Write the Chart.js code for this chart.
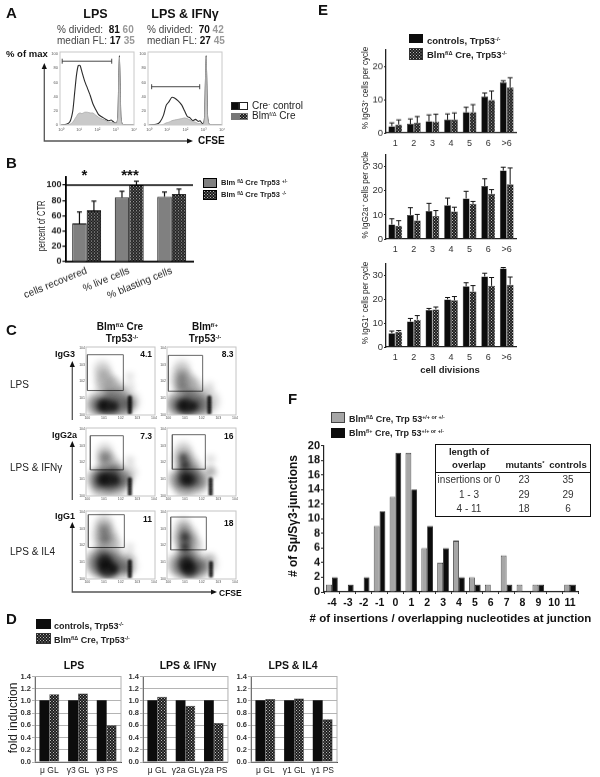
<!DOCTYPE html>
<html>
<head>
<meta charset="utf-8">
<script src="https://cdn.jsdelivr.net/npm/chart.js@4"></script>
<style>
html, body { margin: 0; padding: 0; background: #fff; }
#page { position: absolute; left: 0; top: 0; width: 600px; height: 777px; overflow: hidden; filter: blur(0.35px); font-family: "Liberation Sans", Arial, sans-serif; color: #111; }
#page canvas { position: absolute; }
.t { position: absolute; white-space: nowrap; line-height: 1; }
.t sup { font-size: 0.6em; line-height: 0; vertical-align: 0.55em; }
.box { position: absolute; box-sizing: border-box; }
svg { position: absolute; left: 0; top: 0; }
</style>
</head>
<body>
<div id="page"></div>
<script>
// ---- panel A, histogram curves, x = log10 CFSE, y = % of max
const histLeftX = [0, .3, .5, .65, .75, .85, .95, 1.05, 1.15, 1.3, 1.45, 1.6, 1.75, 1.9, 2.05, 2.2, 2.4, 2.6, 2.75, 2.9, 3.05, 3.12, 3.16, 3.2, 3.24, 3.28, 3.36, 3.6, 4];
const histLeftCtl = [0, 1, 5, 20, 45, 70, 84, 84, 75, 62, 52, 42, 30, 22, 15, 12, 9, 6, 7, 4, 3, 12, 55, 98, 55, 12, 1, 0, 0];
const histLeftMut = [0, 0, 1, 4, 8, 12, 16, 17, 16, 18, 18, 17, 17, 14, 11, 9, 7, 4, 4, 3, 3, 12, 55, 96, 55, 12, 1, 0, 0];
const histRightX = [0, .4, .6, .8, .95, 1.1, 1.25, 1.4, 1.6, 1.8, 1.95, 2.1, 2.25, 2.4, 2.55, 2.7, 2.8, 2.92, 3.0, 3.05, 3.09, 3.13, 3.17, 3.21, 3.3, 3.6, 4];
const histRightCtl = [0, 1, 4, 14, 28, 33, 39, 38, 34, 28, 20, 12, 10, 6, 8, 5, 6, 2, 3, 12, 55, 98, 55, 12, 1, 0, 0];
const histRightMut = [0, 0, 0, 1, 3, 4, 6, 7, 8, 9, 10, 9, 7, 5, 4, 2, 2, 1, 2, 12, 55, 96, 55, 12, 1, 0, 0];
const gateLeft = [[.07, 90], [2.78, 90]];
const gateRight = [[.15, 54], [2.78, 54]];

// ---- panel B
const recoveryCats = ["cells recovered", "% live cells", "% blasting cells"];
const recoveryHet = [50, 84, 85];
const recoveryHetTop = [65, 92, 91];
const recoveryKo = [67, 100, 88];
const recoveryKoTop = [79, 105, 95];

// ---- panel C, density blobs [log x, log y, spread], gates [x0, x1, y0, y1]
const igg3MutLow = [[.9,2.75,6],[1,2.2,7],[1.2,1.8,8],[1.6,1.6,7],[2,1.45,4],[.4,.6,7],[1,.7,11],[1.8,.7,11],[2.45,.8,8],[2.55,1.7,3],[2.55,2.3,2.5]];
const igg3MutMid = [[.7,.6,7],[1.3,.6,9],[2,.6,8],[2.5,.7,5]];
const igg3MutDark = [[.9,.55,5],[1.2,.55,6],[1.6,.5,4]];
const igg3MutPeak = [[2.55,.15,2],[2.55,.3,2],[2.55,.45,2],[2.55,.6,2],[2.55,.75,2],[2.55,.9,2],[2.55,1.05,2]];
const igg3CtlLow = [[.8,2.8,6],[.8,2.2,8],[1.05,1.8,9],[1.5,1.6,7],[.3,.65,7],[.9,.7,11],[1.6,.7,11],[2.3,.8,9],[2.46,1.7,3]];
const igg3CtlMid = [[.7,.6,8],[1.3,.6,9],[2,.6,7],[.8,2.2,4],[.8,1.7,4]];
const igg3CtlDark = [[.8,.55,5],[1.15,.55,6],[1.5,.5,4]];
const igg3CtlPeak = [[2.46,.15,2],[2.46,.3,2],[2.46,.45,2],[2.46,.6,2],[2.46,.75,2],[2.46,.9,2],[2.46,1.05,2]];
const igg2MutLow = [[1.05,2.65,6],[1.1,2.15,7],[1.35,1.75,8],[1.75,1.6,5],[.6,1,8],[1.1,1,11],[1.8,1,10],[.8,.35,7],[1.7,.3,7],[2.55,1.4,5],[2.55,2.1,3]];
const igg2MutMid = [[.7,1,7],[1.2,1,9],[1.8,1,8],[2.3,.9,5],[1.05,2.3,4]];
const igg2MutDark = [[.9,1,5],[1.25,1,6],[1.7,.95,4]];
const igg2MutPeak = [[2.55,.1,2],[2.55,.25,2],[2.55,.4,2],[2.55,.55,2],[2.55,.7,2],[2.55,.85,2],[2.55,1,2]];
const igg2CtlLow = [[.9,2.75,6],[.95,2.2,8],[1.25,1.75,8],[1.7,1.55,5],[.5,1,7],[1.1,.9,11],[1.7,.8,9],[.9,.35,6],[2.55,1.4,4],[2.54,2.2,3]];
const igg2CtlMid = [[.9,2.2,5],[1.05,1.7,6],[.8,1,7],[1.25,1,8],[1.9,.9,6],[2.54,1.5,3]];
const igg2CtlDark = [[.9,2.3,2.5],[1,1.85,3],[1,1.05,5],[1.3,.95,5]];
const igg2CtlPeak = [[2.54,.1,2],[2.54,.25,2],[2.54,.4,2],[2.54,.55,2],[2.54,.7,2],[2.54,.85,2],[2.54,1,2]];
const igg1MutLow = [[1,3.35,6],[1,2.85,8],[1.1,2.35,9],[1.3,1.9,9],[.6,1,10],[1.1,.9,12],[1.8,.8,11],[2.5,.8,6],[2.55,1.3,4],[2.55,1.9,2.5]];
const igg1MutMid = [[1,2.9,4],[1.05,2.4,4],[.8,1,9],[1.2,.8,10],[1.9,.8,7],[2.4,.6,4]];
const igg1MutDark = [[1,1,6],[1.2,.6,7],[1.6,.6,4]];
const igg1MutPeak = [[2.55,.15,2],[2.55,.3,2],[2.55,.45,2],[2.55,.6,2],[2.55,.75,2],[2.55,.9,2],[2.55,1.05,2]];
const igg1CtlLow = [[.9,3.25,5],[.95,2.75,8],[1.1,2.3,9],[1.35,1.9,8],[.5,.9,8],[1.1,.8,11],[1.8,.75,10],[2.45,.9,6],[2.56,1.3,3]];
const igg1CtlMid = [[.95,2.8,4],[1,2.3,6],[1,1.7,6],[.95,.8,9],[1.35,.75,9],[1.9,.7,6]];
const igg1CtlDark = [[1,2.5,3],[1,1.9,3],[1.05,.9,6],[1.25,.6,6]];
const igg1CtlPeak = [[2.56,.2,2],[2.56,.35,2],[2.56,.5,2],[2.56,.65,2],[2.56,.8,2],[2.56,.95,2]];
const gateIgg3Mut = [0, 2.16, 1.46, 3.6];
const gateIgg3Ctl = [0, 2.06, 1.42, 3.56];
const gateIgg2Mut = [.18, 2.16, 1.56, 3.6];
const gateIgg2Ctl = [.24, 2.22, 1.6, 3.66];
const gateIgg1Mut = [.06, 2.22, 1.88, 3.84];
const gateIgg1Ctl = [.14, 2.28, 1.74, 3.7];

// ---- panel D
const foldLabelsLps = ["\u03bc GL", "\u03b33 GL", "\u03b33 PS"];
const foldLabelsIfn = ["\u03bc GL", "\u03b32a GL", "\u03b32a PS"];
const foldLabelsIl4 = ["\u03bc GL", "\u03b31 GL", "\u03b31 PS"];
const foldCtl = [1.01, 1.01, 1.01];
const foldLpsMut = [1.11, 1.12, 0.6];
const foldIfnMut = [1.07, 0.92, 0.64];
const foldIl4Mut = [1.03, 1.04, 0.7];

// ---- panel E
const divisions = ["1", "2", "3", "4", "5", "6", ">6"];
const igg3Ctl = [2, 2.7, 3.5, 4, 6.2, 10.9, 15.2];
const igg3CtlTop = [3, 4.2, 5.4, 5.7, 7.7, 12, 15.7];
const igg3Mut = [2.5, 3, 3.4, 4, 6.2, 9.9, 13.7];
const igg3MutTop = [3.9, 4.9, 5.6, 6, 8.5, 12.6, 16.6];
const igg2Ctl = [6, 10, 11.6, 14, 16.8, 22, 28.4];
const igg2CtlTop = [8.4, 13, 14.8, 17, 19.8, 25, 29.8];
const igg2Mut = [5.5, 7.7, 9.5, 11.4, 14.6, 18.8, 22.7];
const igg2MutTop = [7.6, 10.2, 11.8, 13.2, 15.6, 20.5, 29.5];
const igg1Ctl = [5.8, 10.7, 15.5, 20, 25.5, 29.6, 33];
const igg1CtlTop = [6.7, 12, 16.2, 20.8, 27, 31, 33.4];
const igg1Mut = [6.4, 11.5, 15.8, 19.6, 23.3, 25.7, 26.2];
const igg1MutTop = [6.9, 13.2, 16.8, 21.2, 25.8, 29.2, 29.4];

// ---- panel F
const overlapCats = ["-4", "-3", "-2", "-1", "0", "1", "2", "3", "4", "5", "6", "7", "8", "9", "10", "11"];
const overlapMut = [1, 0, 0, 9, 13, 19, 6, 4, 7, 2, 1, 5, 1, 1, 0, 1];
const overlapCtl = [2, 1, 2, 11, 19, 14, 9, 6, 2, 1, 0, 1, 0, 1, 0, 1];
const overlapRows = ["insertions or 0", "1 - 3", "4 - 11"];
const overlapRowsMut = [23, 29, 18];
const overlapRowsCtl = [35, 29, 6];

const page = document.getElementById("page");
const FONT = '"Liberation Sans", Arial, sans-serif';
const NO_GRID = {display: false, drawTicks: false};
Chart.defaults.font.family = FONT;
Chart.defaults.animation = false;
Chart.defaults.plugins.legend.display = false;
Chart.defaults.plugins.tooltip.enabled = false;

// dithered fill used for the mutant bars
const patCanvas = document.createElement("canvas");
patCanvas.width = 3; patCanvas.height = 3;
const pc = patCanvas.getContext("2d");
pc.fillStyle = "#1c1c1c"; pc.fillRect(0, 0, 3, 3);
pc.fillStyle = "#b8b8b8"; pc.fillRect(0, 0, 1, 1); pc.fillRect(1.5, 1.5, 1, 1);
const pattern = pc.createPattern(patCanvas, "repeat");
const patUrl = patCanvas.toDataURL();

// draws the upward error whiskers and any reference line through the scales
Chart.register({
    id: "extras",
    beforeDatasetDraw(chart, args) {
        const soft = chart.data.datasets[args.index].soft;
        if(soft) {
            chart.ctx.save();
            chart.ctx.filter = `blur(${soft}px)`;
        }
    },
    afterDatasetDraw(chart, args) {
        if(chart.data.datasets[args.index].soft) chart.ctx.restore();
    },
    afterDatasetsDraw(chart) {
        const ctx = chart.ctx;
        const y = chart.scales.y;
        chart.data.datasets.forEach((ds, i) => {
            if(!ds.errTop) return;
            chart.getDatasetMeta(i).data.forEach((bar, j) => {
                const top = y.getPixelForValue(ds.errTop[j]);
                ctx.strokeStyle = "#111";
                ctx.lineWidth = chart.options.errWidth || 1.2;
                ctx.beginPath();
                ctx.moveTo(bar.x, y.getPixelForValue(ds.data[j]));
                ctx.lineTo(bar.x, top);
                ctx.moveTo(bar.x - 2.5, top);
                ctx.lineTo(bar.x + 2.5, top);
                ctx.stroke();
            });
        });
        if(chart.options.refLine !== undefined) {
            const py = y.getPixelForValue(chart.options.refLine);
            ctx.strokeStyle = "#000";
            ctx.lineWidth = 1.6;
            ctx.beginPath();
            ctx.moveTo(chart.chartArea.left, py);
            ctx.lineTo(chart.chartArea.right, py);
            ctx.stroke();
        }
        if(chart.options.frame) {
            const a = chart.chartArea;
            ctx.strokeStyle = chart.options.frame;
            ctx.lineWidth = 1;
            ctx.strokeRect(a.left, a.top, a.right - a.left, a.bottom - a.top);
        }
    }
});

// puts a chart so its plot area lands on the given rectangle
function addChart(left, top, right, bottom, m, config) {
    const w = right - left + m.l + m.r;
    const h = bottom - top + m.t + m.b;
    const canvas = document.createElement("canvas");
    canvas.width = w; canvas.height = h;
    canvas.style.left = (left - m.l) + "px";
    canvas.style.top = (top - m.t) + "px";
    canvas.style.width = w + "px";
    canvas.style.height = h + "px";
    page.appendChild(canvas);
    config.options.responsive = false;
    config.options.layout = {autoPadding: false, padding: {top: m.t, right: m.r, left: 0, bottom: 0}};
    config.options.scales.x.afterFit = s => { s.height = m.b; };
    config.options.scales.y.afterFit = s => { s.width = m.l; };
    return new Chart(canvas.getContext("2d"), config);
}

function text(x, y, html, size, opts) {
    opts = opts || {};
    const el = document.createElement("div");
    el.className = "t";
    el.innerHTML = html;
    el.style.left = x + "px";
    el.style.top = y + "px";
    el.style.fontSize = size + "px";
    if(opts.bold) el.style.fontWeight = "bold";
    if(opts.color) el.style.color = opts.color;
    const ax = opts.align == "center" ? "-50%" : opts.align == "right" ? "-100%" : "0";
    el.style.transform = `translate(${ax}, -50%)` + (opts.rot ? ` rotate(${opts.rot}deg)` : "") + (opts.sx ? ` scaleX(${opts.sx})` : "");
    page.appendChild(el);
}

function swatch(x, y, w, h, fill, border) {
    const el = document.createElement("div");
    el.className = "box";
    el.style.cssText = `left:${x}px;top:${y}px;width:${w}px;height:${h}px;border:1px solid ${border || "#222"};`;
    if(fill == "pattern") el.style.backgroundImage = `url(${patUrl})`;
    else el.style.background = fill;
    page.appendChild(el);
}

function toPoints(xs, ys) {
    return xs.map((x, i) => ({x: x, y: ys[i]}));
}

// ---- A
function histChart(left, right, xs, ctl, mut, gate) {
    const decades = ["10\u2070", "10\u00b9", "10\u00b2", "10\u00b3", "10\u2074"];
    const mutPoints = toPoints(xs, mut);
    addChart(left, 52, right, 125, {l: 12, r: 8, t: 5, b: 8}, {
        type: "scatter",
        data: {datasets: [
            {data: mutPoints, showLine: true, fill: "origin", backgroundColor: "#c9c9c9", borderColor: "#a9a9a9", borderWidth: 0.8, pointRadius: 0, tension: 0.2},
            {data: mutPoints.filter(p => p.x >= 3 && p.x <= 3.4), showLine: true, fill: "origin", backgroundColor: "#6a6a6a", borderWidth: 0, pointRadius: 0},
            {data: toPoints(xs, ctl), showLine: true, borderColor: "#2b2b2b", borderWidth: 1.1, pointRadius: 0, tension: 0.2},
            {data: gate.map(g => ({x: g[0], y: g[1]})), showLine: true, borderColor: "#333", borderWidth: 0.9, pointStyle: "line", rotation: 90, pointRadius: 2.5, pointBorderColor: "#333", pointBorderWidth: 0.9}
        ]},
        options: {
            frame: "#c8c8c8",
            scales: {
                x: {min: -0.05, max: 4, grid: NO_GRID, border: {display: false},
                    afterBuildTicks: s => { s.ticks = [0, 1, 2, 3, 4].map(v => ({value: v})); },
                    ticks: {autoSkip: false, maxRotation: 0, padding: 2, font: {size: 4}, color: "#555", callback: v => decades[v]}},
                y: {min: 0, max: 103, grid: NO_GRID, border: {display: false},
                    ticks: {stepSize: 20, includeBounds: false, autoSkip: false, padding: 2, font: {size: 4}, color: "#555"}}
            }
        }
    });
}
histChart(60, 134, histLeftX, histLeftCtl, histLeftMut, gateLeft);
histChart(147.5, 221.5, histRightX, histRightCtl, histRightMut, gateRight);

// ---- B
addChart(63, 175, 193, 261.7, {l: 50, r: 4, t: 4, b: 42}, {
    type: "bar",
    data: {labels: recoveryCats, datasets: [
        {data: recoveryHet, errTop: recoveryHetTop, backgroundColor: "#808080", borderColor: "#000", borderWidth: 1},
        {data: recoveryKo, errTop: recoveryKoTop, backgroundColor: pattern, borderColor: "#000", borderWidth: 1}
    ]},
    options: {
        refLine: 100,
        datasets: {bar: {barPercentage: 1, categoryPercentage: 0.68}},
        scales: {
            x: {grid: NO_GRID, border: {color: "#000", width: 1.8},
                ticks: {autoSkip: false, minRotation: 22, maxRotation: 22, padding: 3, font: {size: 10}, color: "#222"}},
            y: {min: 0, max: 110, grid: {drawOnChartArea: false, tickLength: 3, color: "#000", lineWidth: 1.2}, border: {color: "#000", width: 1.8},
                ticks: {stepSize: 20, includeBounds: false, padding: 1, font: {size: 9, weight: "bold"}, color: "#222"}}
        }
    }
});

// ---- C
function densityChart(left, top, low, mid, dark, peak, gate) {
    const blob = (a, k) => a.map(p => ({x: p[0], y: p[1], r: p[2] * k}));
    const g = gate;
    addChart(left, top, left + 69, top + 68, {l: 8, r: 8, t: 5, b: 7}, {
        type: "bubble",
        data: {datasets: [
            {data: blob(low, 1.4), soft: 3, backgroundColor: "rgba(0,0,0,.17)", borderWidth: 0},
            {data: blob(mid, 1.3), soft: 3, backgroundColor: "rgba(0,0,0,.3)", borderWidth: 0},
            {data: blob(dark, 1.2), soft: 2.5, backgroundColor: "rgba(0,0,0,.6)", borderWidth: 0},
            {data: blob(peak, 1), soft: 1, backgroundColor: "rgba(0,0,0,.9)", borderWidth: 0},
            {type: "line", data: [{x: g[0], y: g[2]}, {x: g[1], y: g[2]}, {x: g[1], y: g[3]}, {x: g[0], y: g[3]}, {x: g[0], y: g[2]}],
                borderColor: "#666", borderWidth: 1, pointRadius: 0, tension: 0}
        ]},
        options: {
            frame: "#c4c4c4",
            scales: {
                x: {type: "linear", min: -0.08, max: 4.06, grid: NO_GRID, border: {display: false},
                    afterBuildTicks: s => { s.ticks = [0, 1, 2, 3, 4].map(v => ({value: v})); },
                    ticks: {autoSkip: false, maxRotation: 0, padding: 1, font: {size: 3.5}, color: "#555", callback: v => "10" + v}},
                y: {type: "linear", min: 0, max: 4.06, grid: NO_GRID, border: {display: false},
                    afterBuildTicks: s => { s.ticks = [0, 1, 2, 3, 4].map(v => ({value: v})); },
                    ticks: {autoSkip: false, padding: 1, font: {size: 3.5}, color: "#555", callback: v => "10" + v}}
            }
        }
    });
}
densityChart(86, 347, igg3MutLow, igg3MutMid, igg3MutDark, igg3MutPeak, gateIgg3Mut);
densityChart(167, 347, igg3CtlLow, igg3CtlMid, igg3CtlDark, igg3CtlPeak, gateIgg3Ctl);
densityChart(86, 428, igg2MutLow, igg2MutMid, igg2MutDark, igg2MutPeak, gateIgg2Mut);
densityChart(167, 428, igg2CtlLow, igg2CtlMid, igg2CtlDark, igg2CtlPeak, gateIgg2Ctl);
densityChart(86, 511, igg1MutLow, igg1MutMid, igg1MutDark, igg1MutPeak, gateIgg1Mut);
densityChart(167, 511, igg1CtlLow, igg1CtlMid, igg1CtlDark, igg1CtlPeak, gateIgg1Ctl);

// ---- D
function foldChart(left, labels, mut) {
    addChart(left, 675.7, left + 86, 762, {l: 24, r: 3, t: 5, b: 15}, {
        type: "bar",
        data: {labels: labels, datasets: [
            {data: foldCtl, backgroundColor: "#0c0c0c", borderWidth: 0},
            {data: mut, backgroundColor: pattern, borderColor: "#222", borderWidth: 0.5}
        ]},
        options: {
            frame: "#b0b0b0",
            datasets: {bar: {barPercentage: 1, categoryPercentage: 0.69}},
            scales: {
                x: {grid: NO_GRID, border: {color: "#333", width: 1},
                    ticks: {autoSkip: false, maxRotation: 0, padding: 4, font: {size: 8.5}, color: "#222"}},
                y: {min: 0, max: 1.4, grid: {color: "#b4b4b4", lineWidth: 1, tickLength: 3}, border: {color: "#333", width: 1},
                    ticks: {stepSize: 0.2, autoSkip: false, padding: 1, font: {size: 7.5, weight: "bold"}, color: "#333", callback: v => v.toFixed(1)}}
            }
        }
    });
}
foldChart(35, foldLabelsLps, foldLpsMut);
foldChart(143, foldLabelsIfn, foldIfnMut);
foldChart(251, foldLabelsIl4, foldIl4Mut);

// ---- E
function divisionChart(top, bottom, max, ctl, ctlTop, mut, mutTop) {
    addChart(386, top, 516, bottom, {l: 24, r: 3, t: 5, b: 16}, {
        type: "bar",
        data: {labels: divisions, datasets: [
            {data: ctl, errTop: ctlTop, backgroundColor: "#0c0c0c", borderColor: "#333", borderWidth: 0.5},
            {data: mut, errTop: mutTop, backgroundColor: pattern, borderColor: "#333", borderWidth: 0.5}
        ]},
        options: {
            errWidth: 1,
            datasets: {bar: {barPercentage: 1, categoryPercentage: 0.74}},
            scales: {
                x: {grid: NO_GRID, border: {color: "#222", width: 1.3},
                    ticks: {autoSkip: false, maxRotation: 0, padding: 5, font: {size: 9}, color: "#333"}},
                y: {min: 0, max: max, grid: {drawOnChartArea: false, tickLength: 2, color: "#222"}, border: {color: "#222", width: 1.3},
                    ticks: {stepSize: 10, includeBounds: false, padding: 1, font: {size: 9.5}, color: "#333"}}
            }
        }
    });
}
divisionChart(47.7, 132.7, 25, igg3Ctl, igg3CtlTop, igg3Mut, igg3MutTop);
divisionChart(152.7, 239, 35, igg2Ctl, igg2CtlTop, igg2Mut, igg2MutTop);
divisionChart(261.5, 347.3, 35, igg1Ctl, igg1CtlTop, igg1Mut, igg1MutTop);

// ---- F
addChart(323.5, 444, 578, 591.5, {l: 22, r: 4, t: 6, b: 18}, {
    type: "bar",
    data: {labels: overlapCats, datasets: [
        {data: overlapMut, backgroundColor: "#a6a6a6", borderColor: "#222", borderWidth: 0.8},
        {data: overlapCtl, backgroundColor: "#0c0c0c", borderColor: "#111", borderWidth: 0.8}
    ]},
    options: {
        datasets: {bar: {barPercentage: 1, categoryPercentage: 0.73}},
        scales: {
            x: {grid: {drawOnChartArea: false, tickLength: 2, color: "#222"}, border: {color: "#222", width: 1.2},
                ticks: {autoSkip: false, maxRotation: 0, padding: 3, font: {size: 10.5, weight: "bold"}, color: "#111"}},
            y: {min: 0, max: 20, grid: {drawOnChartArea: false, tickLength: 3, color: "#222"}, border: {color: "#222", width: 1.2},
                ticks: {stepSize: 2, autoSkip: false, padding: 1, font: {size: 11, weight: "bold"}, color: "#111"}}
        }
    }
});

// axis arrows of the flow panels
const NS = "http://www.w3.org/2000/svg";
const svg = document.createElementNS(NS, "svg");
svg.setAttribute("width", 600); svg.setAttribute("height", 777);
svg.innerHTML = `
<g stroke="#555" stroke-width="1.3" fill="none">
<path d="M44.3 68V141H190"/>
<path d="M72.3 420V366"/><path d="M72.3 500V446"/><path d="M72.3 527V592H213"/>
</g>
<g fill="#111">
<path d="M44.3 63l-2.6 6h5.2z"/><path d="M193 141l-6 -2.6v5.2z"/>
<path d="M72.3 361l-2.6 6h5.2z"/><path d="M72.3 441l-2.6 6h5.2z"/><path d="M72.3 522l-2.6 6h5.2z"/><path d="M217 592l-6 -2.6v5.2z"/>
</g>`;
page.appendChild(svg);

// panel letters
text(6, 12, "A", 15, {bold: true});
text(6, 162, "B", 15, {bold: true});
text(6, 329, "C", 15, {bold: true});
text(6, 618, "D", 15, {bold: true});
text(318, 9, "E", 15, {bold: true});
text(288, 398, "F", 15, {bold: true});

// A labels
text(95.5, 14, "LPS", 12.5, {bold: true, align: "center"});
text(185, 14, "LPS &amp; IFN\u03b3", 12.5, {bold: true, align: "center"});
const grey = '#999';
text(57, 30, `% divided: &nbsp;<b style="color:#111">81</b> <b style="color:${grey}">60</b>`, 10, {color: "#444"});
text(57, 41, `median FL: <b style="color:#111">17</b> <b style="color:${grey}">35</b>`, 10, {color: "#444"});
text(147, 30, `% divided: &nbsp;<b style="color:#111">70</b> <b style="color:${grey}">42</b>`, 10, {color: "#444"});
text(147, 41, `median FL: <b style="color:#111">27</b> <b style="color:${grey}">45</b>`, 10, {color: "#444"});
text(6, 54, "% of max", 9.5, {bold: true});
text(198, 141, "CFSE", 10, {bold: true});
swatch(231, 102, 8, 8, "#0c0c0c");
swatch(239, 102, 8.5, 8, "#fff");
swatch(231, 112.5, 8, 7.5, "#777", "#777");
swatch(239, 112.5, 8.5, 7.5, "pattern", "#777");
text(252, 106, "Cre<sup>-</sup> control", 10, {color: "#222"});
text(252, 116, "Blm<sup>f/\u0394</sup> Cre", 10, {color: "#222"});

// B labels
text(41, 226, "percent of CTR", 11, {align: "center", rot: -90, color: "#222", sx: 0.68});
text(84.5, 174, "*", 15, {bold: true, align: "center"});
text(130, 174, "***", 15, {bold: true, align: "center"});
swatch(203, 178, 14, 10, "#808080", "#000");
swatch(203, 190, 14, 10, "pattern", "#000");
text(221, 183, "Blm <sup>f/\u0394</sup> Cre Trp53 <sup>+/-</sup>", 7.5, {bold: true, color: "#222"});
text(221, 195, "Blm <sup>f/\u0394</sup> Cre Trp53 <sup>-/-</sup>", 7.5, {bold: true, color: "#222"});

// C labels
text(120, 327, "Blm<sup>f/\u0394</sup> Cre", 10, {bold: true, align: "center"});
text(122, 339, "Trp53<sup>-/-</sup>", 10, {bold: true, align: "center"});
text(205, 327, "Blm<sup>f/+</sup>", 10, {bold: true, align: "center"});
text(205, 339, "Trp53<sup>-/-</sup>", 10, {bold: true, align: "center"});
text(75, 354, "IgG3", 9, {bold: true, align: "right"});
text(77, 435, "IgG2a", 9, {bold: true, align: "right"});
text(75, 516, "IgG1", 9, {bold: true, align: "right"});
text(10, 385, "LPS", 10, {color: "#222"});
text(10, 468, "LPS &amp; IFN\u03b3", 10, {color: "#222"});
text(10, 552, "LPS &amp; IL4", 10, {color: "#222"});
text(219, 593, "CFSE", 8.5, {bold: true});
text(152, 354, "4.1", 8.5, {bold: true, align: "right"});
text(233.5, 354, "8.3", 8.5, {bold: true, align: "right"});
text(152, 436, "7.3", 8.5, {bold: true, align: "right"});
text(233.5, 436, "16", 8.5, {bold: true, align: "right"});
text(152, 519, "11", 8.5, {bold: true, align: "right"});
text(233.5, 523, "18", 8.5, {bold: true, align: "right"});

// D labels
swatch(36, 619, 14.5, 9.5, "#0c0c0c", "#0c0c0c");
swatch(36, 633, 14.5, 11, "pattern", "#333");
text(54, 626, "controls, Trp53<sup>-/-</sup>", 9, {bold: true, color: "#222"});
text(54, 640, "Blm<sup>f/\u0394</sup> Cre, Trp53<sup>-/-</sup>", 9, {bold: true, color: "#222"});
text(13, 718, "fold induction", 12, {align: "center", rot: -90, color: "#222"});
text(74, 665, "LPS", 10.5, {bold: true, align: "center"});
text(188, 665, "LPS &amp; IFN\u03b3", 10.5, {bold: true, align: "center"});
text(293, 665, "LPS &amp; IL4", 10.5, {bold: true, align: "center"});

// E labels
swatch(408.7, 33.5, 14.3, 9.5, "#0c0c0c", "#0c0c0c");
swatch(408.7, 47.5, 14.3, 12, "pattern", "#333");
text(427, 41, "controls, Trp53<sup>-/-</sup>", 9.5, {bold: true, color: "#222"});
text(427, 55, "Blm<sup>f/\u0394</sup> Cre, Trp53<sup>-/-</sup>", 9.5, {bold: true, color: "#222"});
text(365, 88, "% IgG3<sup>+</sup> cells per cycle", 9.5, {align: "center", rot: -90, color: "#222", sx: 0.85});
text(365, 195, "% IgG2a<sup>+</sup> cells per cycle", 9.5, {align: "center", rot: -90, color: "#222", sx: 0.85});
text(365, 303, "% IgG1<sup>+</sup> cells per cycle", 9.5, {align: "center", rot: -90, color: "#222", sx: 0.85});
text(450, 370, "cell divisions", 9.5, {bold: true, align: "center", color: "#222"});

// F labels and table
swatch(331, 412, 13.5, 11, "#a6a6a6", "#444");
swatch(331, 428, 13.5, 10, "#0c0c0c", "#0c0c0c");
text(349, 419, "Blm<sup>f/\u0394</sup> Cre, Trp 53<sup>+/+ or +/-</sup>", 9, {bold: true, color: "#222"});
text(349, 433, "Blm<sup>f/+</sup> Cre, Trp 53<sup>+/+ or +/-</sup>", 9, {bold: true, color: "#222"});
text(293, 516, "# of S\u03bc/S\u03b33-junctions", 12, {bold: true, align: "center", rot: -90});
text(450.5, 619, "# of insertions / overlapping nucleotides at junction", 11.5, {bold: true, align: "center"});
swatch(435, 443.7, 156, 73, "#fff", "#111");
page.lastChild.style.borderWidth = "1.3px";
const rule = document.createElement("div");
rule.className = "box";
rule.style.cssText = "left:435px;top:472px;width:156px;height:1.2px;background:#111;";
page.appendChild(rule);
text(469, 451.7, "length of", 9.5, {bold: true, align: "center", color: "#222"});
text(469, 465, "overlap", 9.5, {bold: true, align: "center", color: "#222"});
text(525, 465, "mutants<sup>*</sup>", 9.5, {bold: true, align: "center", color: "#222"});
text(568, 465, "controls", 9.5, {bold: true, align: "center", color: "#222"});
overlapRows.forEach((row, i) => {
    const y = 480 + i * 14.5;
    text(469, y, row, 10, {align: "center", color: "#333"});
    text(524, y, overlapRowsMut[i], 10, {align: "center", color: "#333"});
    text(568, y, overlapRowsCtl[i], 10, {align: "center", color: "#333"});
});
</script>
</body>
</html>
